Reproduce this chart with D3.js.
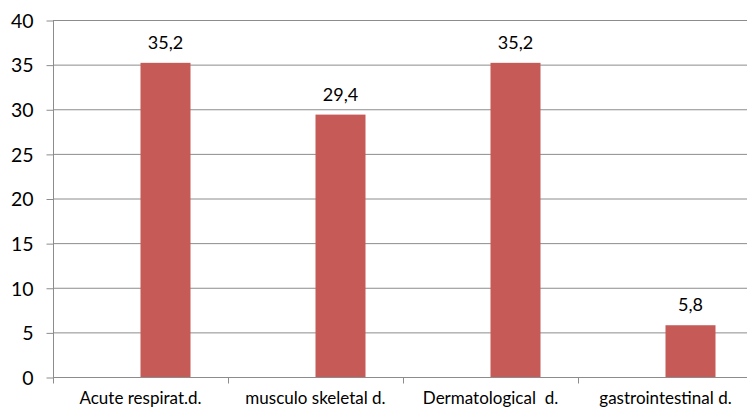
<!DOCTYPE html>
<html>
<head>
<meta charset="utf-8">
<script src="https://cdn.jsdelivr.net/npm/d3@7"></script>
<style>
  body { margin: 0; background: #fff; overflow: hidden; }
  text { font-family: Lato, "Open Sans", sans-serif; fill: #000; }
</style>
</head>
<body>
<div id="chart"></div>
<script>
var svgWidth = 747;
var svgHeight = 409;

var margin = { top: 20, right: -6, bottom: 32, left: 53 };

var width = svgWidth - margin.left - margin.right;
var height = svgHeight - margin.top - margin.bottom;

// data
var categories = ["Acute respirat.d.", "musculo skeletal d.", "Dermatological  d.", "gastrointestinal d."];
var values = [35.2, 29.4, 35.2, 5.8];
var valueLabels = ["35,2", "29,4", "35,2", "5,8"];
var yTicks = [0, 5, 10, 15, 20, 25, 30, 35, 40];

var svg = d3.select("#chart")
    .append("svg")
    .attr("width", svgWidth)
    .attr("height", svgHeight);

var chartGroup = svg.append("g")
    .attr("transform", `translate(${margin.left}, ${margin.top})`);

var xScale = d3.scaleBand()
    .domain(categories)
    .range([0, width]);

var yScale = d3.scaleLinear()
    .domain([0, 40])
    .range([height, 0]);

// gridlines
chartGroup.append("g")
    .selectAll("line")
    .data(yTicks.filter(d => d > 0))
    .enter()
    .append("line")
    .attr("x1", 0)
    .attr("x2", width)
    .attr("y1", d => yScale(d) + 0.5)
    .attr("y2", d => yScale(d) + 0.5)
    .attr("stroke", "#8c8c8c")
    .attr("stroke-width", 1);

// y axis
var leftAxis = d3.axisLeft(yScale).tickValues(yTicks).tickSize(7).tickPadding(13);
var yAxis = chartGroup.append("g")
    .attr("transform", "translate(0.5,0.5)")
    .call(leftAxis);
yAxis.select(".domain").attr("stroke", "#8c8c8c").attr("d", `M0,0V${height}`);
yAxis.selectAll(".tick line").attr("stroke", "#8c8c8c");
yAxis.selectAll(".tick text")
    .style("font-size", "19.5px")
    .attr("dy", "0.35em");

// x axis
var bottomAxis = d3.axisBottom(xScale).tickSize(0).tickPadding(14);
var xAxis = chartGroup.append("g")
    .attr("transform", `translate(0, ${height + 0.5})`)
    .call(bottomAxis);
xAxis.select(".domain").attr("stroke", "#8c8c8c").attr("d", `M0,0H${width}`);
xAxis.selectAll(".tick text").style("font-size", "17px").style("white-space", "pre");

// category separators
xAxis.append("g")
    .selectAll("line")
    .data(categories.concat(["end"]))
    .enter()
    .append("line")
    .attr("x1", (d, i) => Math.round(i * xScale.bandwidth()) + 0.5)
    .attr("x2", (d, i) => Math.round(i * xScale.bandwidth()) + 0.5)
    .attr("y1", 0)
    .attr("y2", 6)
    .attr("stroke", "#8c8c8c");

// bars (second slot of a two-series group, gap 150%)
var barW = xScale.bandwidth() / 3.5;
chartGroup.selectAll(".bar")
    .data(values)
    .enter()
    .append("rect")
    .attr("class", "bar")
    .attr("x", (d, i) => xScale(categories[i]) + xScale.bandwidth() / 2)
    .attr("y", d => yScale(d))
    .attr("width", barW)
    .attr("height", d => height - yScale(d))
    .attr("fill", "#c55a56");

// value labels
chartGroup.selectAll(".valueText")
    .data(values)
    .enter()
    .append("text")
    .attr("class", "valueText")
    .attr("x", (d, i) => xScale(categories[i]) + xScale.bandwidth() / 2 + barW / 2)
    .attr("y", d => yScale(d) - 14)
    .attr("text-anchor", "middle")
    .style("font-size", "18px")
    .text((d, i) => valueLabels[i]);
</script>
</body>
</html>
